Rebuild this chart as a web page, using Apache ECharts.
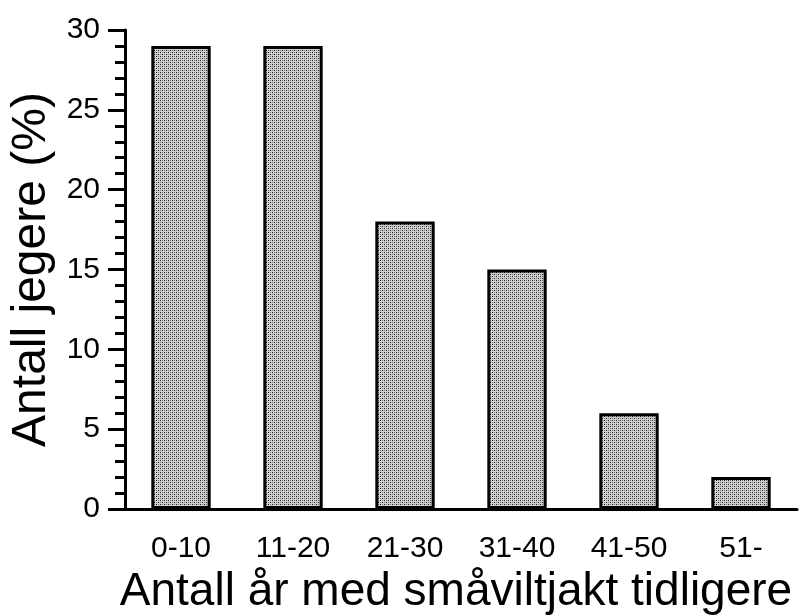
<!DOCTYPE html>
<html>
<head>
<meta charset="UTF-8">
<script src="https://cdn.jsdelivr.net/npm/echarts@6/dist/echarts.min.js"></script>
<style>
  body { margin: 0; background: #fff; }
  #main { width: 801px; height: 616px; }
</style>
</head>
<body>
<div id="main"></div>
<script>
  // data
  var categories = ['0-10', '11-20', '21-30', '31-40', '41-50', '51-'];
  var shares = [29, 29, 18, 15, 6, 2];

  // stipple pattern for the bars
  var pat = document.createElement('canvas');
  pat.width = 4; pat.height = 4;
  var pc = pat.getContext('2d');
  pc.fillStyle = '#d0d0d0';
  pc.fillRect(0, 0, 4, 4);
  pc.fillStyle = '#1a1a1a';
  pc.fillRect(0, 0, 1, 1);
  pc.fillRect(2, 2, 1, 1);
  pc.fillStyle = '#777';
  pc.fillRect(2, 0, 1, 1);
  pc.fillRect(0, 2, 1, 1);

  var font = 'Liberation Sans';
  var chart = echarts.init(document.getElementById('main'));
  chart.setOption({
    animation: false,
    grid: { left: 125, right: 4, top: 30, bottom: 107, containLabel: false, outerBoundsMode: 'none' },
    xAxis: {
      type: 'category',
      data: categories,
      name: 'Antall år med småviltjakt tidligere',
      nameLocation: 'middle',
      nameGap: 41,
      nameTextStyle: { fontFamily: font, fontSize: 46, color: '#000', padding: [0, 10, 0, 0] },
      axisLine: { lineStyle: { color: '#000', width: 3 } },
      axisTick: { length: 18, lineStyle: { width: 3, color: '#000' } },
      axisLabel: { margin: 25, fontFamily: font, fontSize: 30, color: '#000' }
    },
    yAxis: {
      type: 'value',
      min: 0, max: 30, interval: 5,
      name: 'Antall jegere (%)',
      nameLocation: 'middle',
      nameGap: 66,
      nameTextStyle: { fontFamily: font, fontSize: 48, color: '#000' },
      splitLine: { show: false },
      axisLine: { show: true, lineStyle: { color: '#000', width: 3 } },
      axisTick: { show: true, length: 17, lineStyle: { width: 3, color: '#000' } },
      minorTick: { show: true, splitNumber: 5, length: 10, lineStyle: { width: 3, color: '#000' } },
      axisLabel: { margin: 25, fontFamily: font, fontSize: 30, color: '#000' }
    },
    series: [{
      type: 'bar',
      data: shares,
      barWidth: '53%',
      itemStyle: {
        color: { image: pat, repeat: 'repeat' },
        borderColor: '#000',
        borderWidth: 3
      }
    }]
  });
</script>
</body>
</html>
